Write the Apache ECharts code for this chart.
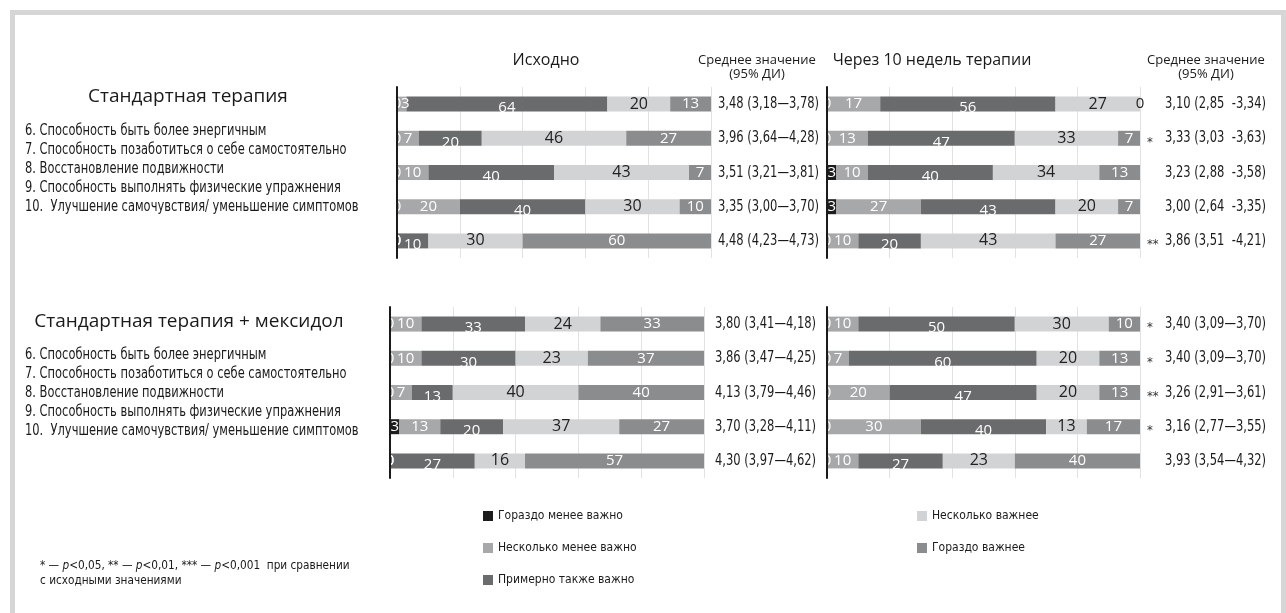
<!DOCTYPE html>
<html>
<head>
<meta charset="utf-8">
<script src="https://cdn.jsdelivr.net/npm/echarts@6/dist/echarts.min.js"></script>
<style>
  html, body { margin: 0; padding: 0; background: #fff; }
  #chart { width: 1286px; height: 613px; }
</style>
</head>
<body>
<div id="chart"></div>
<script>
// Answer scale (legend order) and survey items
const levels = ['Гораздо менее важно', 'Несколько менее важно', 'Примерно также важно', 'Несколько важнее', 'Гораздо важнее'];
const items = [
  '6. Способность быть более энергичным',
  '7. Способность позаботиться о себе самостоятельно',
  '8. Восстановление подвижности',
  '9. Способность выполнять физические упражнения',
  '10.  Улучшение самочувствия/ уменьшение симптомов'
];

// Share of answers (%) per row, in the order of `levels`
const stdBaseline = [[0, 3, 64, 20, 13], [0, 7, 20, 46, 27], [0, 10, 40, 43, 7], [0, 20, 40, 30, 10], [0, 0, 10, 30, 60]];
const stdWeek10   = [[0, 17, 56, 27, 0], [0, 13, 47, 33, 7], [3, 10, 40, 34, 13], [3, 27, 43, 20, 7], [0, 10, 20, 43, 27]];
const mexBaseline = [[0, 10, 33, 24, 33], [0, 10, 30, 23, 37], [0, 7, 13, 40, 40], [3, 13, 20, 37, 27], [0, 0, 27, 16, 57]];
const mexWeek10   = [[0, 10, 50, 30, 10], [0, 7, 60, 20, 13], [0, 20, 47, 20, 13], [0, 30, 40, 13, 17], [0, 10, 27, 23, 40]];

// Mean (95% CI) per row and significance marks vs baseline
const stdBaselineCI = ['3,48 (3,18—3,78)', '3,96 (3,64—4,28)', '3,51 (3,21—3,81)', '3,35 (3,00—3,70)', '4,48 (4,23—4,73)'];
const stdWeek10CI   = ['3,10 (2,85  -3,34)', '3,33 (3,03  -3,63)', '3,23 (2,88  -3,58)', '3,00 (2,64  -3,35)', '3,86 (3,51  -4,21)'];
const stdWeek10Sig  = ['', '*', '', '', '**'];
const mexBaselineCI = ['3,80 (3,41—4,18)', '3,86 (3,47—4,25)', '4,13 (3,79—4,46)', '3,70 (3,28—4,11)', '4,30 (3,97—4,62)'];
const mexWeek10CI   = ['3,40 (3,09—3,70)', '3,40 (3,09—3,70)', '3,26 (2,91—3,61)', '3,16 (2,77—3,55)', '3,93 (3,54—4,32)'];
const mexWeek10Sig  = ['*', '*', '**', '*', ''];

const groupTitles = ['Стандартная терапия', 'Стандартная терапия + мексидол'];
const periodTitles = ['Исходно', 'Через 10 недель терапии'];
const meanTitle = 'Среднее значение\n(95% ДИ)';
const footnote = ['* — {i|p}<0,05, ** — {i|p}<0,01, *** — {i|p}<0,001  при сравнении', 'с исходными значениями'];

const NARROW = "'DejaVu Sans Condensed', 'DejaVu Sans', sans-serif";
const SANS = "'Open Sans', 'Noto Sans', sans-serif";
const colors = ['#1d1d1d', '#a7a8aa', '#6a6b6d', '#d2d3d5', '#8b8c8e'];
const labelColors = ['#fff', '#fff', '#fff', '#222', '#fff'];

const panels = [
  { rows: stdBaseline, ci: stdBaselineCI, sig: null, grid: { left: 397, top: 87, width: 314, height: 171 }, ciGap: 7 },
  { rows: stdWeek10, ci: stdWeek10CI, sig: stdWeek10Sig, grid: { left: 827, top: 87, width: 313, height: 171 }, ciGap: 25 },
  { rows: mexBaseline, ci: mexBaselineCI, sig: null, grid: { left: 390, top: 307, width: 314, height: 171 }, ciGap: 11 },
  { rows: mexWeek10, ci: mexWeek10CI, sig: mexWeek10Sig, grid: { left: 827, top: 307, width: 313, height: 171 }, ciGap: 25 }
];

const grid = [], xAxis = [], yAxis = [], series = [];
panels.forEach((p, pi) => {
  grid.push(p.grid);
  xAxis.push({
    gridIndex: pi, type: 'value', min: 0, max: 100, interval: 20,
    axisLabel: { show: false }, axisLine: { show: false }, axisTick: { show: false },
    splitLine: { lineStyle: { color: '#e2e2e2', width: 1 } }
  });
  yAxis.push({
    gridIndex: pi, type: 'category', inverse: true, data: items, z: 10,
    axisLine: { lineStyle: { color: '#1a1a1a', width: 2 } },
    axisTick: { show: false }, axisLabel: { show: false }
  });
  levels.forEach((lv, k) => {
    series.push({
      type: 'bar', name: lv, stack: 'panel' + pi,
      xAxisIndex: pi, yAxisIndex: pi,
      barWidth: 15,
      itemStyle: { color: colors[k] },
      label: {
        show: true, position: 'inside',
        color: labelColors[k],
        fontFamily: SANS,
        fontSize: k === 3 ? 16 : 15,
        offset: k === 2 ? [0, 4] : [0, 0]
      },
      data: p.rows.map(r => {
        const v = r[k];
        if (v === 0 && k >= 2) {
          return { value: v, label: { color: '#222', offset: [0, 0] } };
        }
        if (k === 1 && v > 0 && v < 5) {
          return { value: v, label: { position: 'insideLeft', distance: 4 } };
        }
        return v;
      })
    });
  });
  // mean (95% CI) text to the right of each row, with significance marks
  series.push({
    type: 'custom', name: 'ci' + pi, xAxisIndex: pi, yAxisIndex: pi,
    clip: false, silent: true, z: 5,
    data: p.ci.map((t, i) => [100, i]),
    renderItem: (params, api) => {
      const pt = api.coord([api.value(0), api.value(1)]);
      const i = params.dataIndex;
      const children = [{
        type: 'text', x: pt[0] + p.ciGap, y: pt[1], scaleX: 0.8,
        style: { text: p.ci[i], font: `16px ${NARROW}`, fill: '#1a1a1a', align: 'left', verticalAlign: 'middle' }
      }];
      if (p.sig && p.sig[i]) {
        children.push({
          type: 'text', x: pt[0] + 7, y: pt[1] + 4,
          style: { text: p.sig[i], font: `13px ${NARROW}`, fill: '#333', align: 'left', verticalAlign: 'middle' }
        });
      }
      return { type: 'group', children };
    }
  });
});

const graphic = [];
// frame
graphic.push({ type: 'rect', shape: { x: 12.5, y: 12.5, width: 1271, height: 620 }, style: { fill: 'none', stroke: '#d6d6d6', lineWidth: 5 }, silent: true });
// column titles
graphic.push({ type: 'text', x: 546, y: 60, style: { text: periodTitles[0], font: `16px ${SANS}`, fill: '#1a1a1a', align: 'center', verticalAlign: 'middle' } });
graphic.push({ type: 'text', x: 932, y: 60, style: { text: periodTitles[1], font: `16px ${SANS}`, fill: '#1a1a1a', align: 'center', verticalAlign: 'middle' } });
[757, 1206].forEach(cx => {
  graphic.push({ type: 'text', x: cx, y: 53, style: { text: meanTitle, font: `13px ${SANS}`, fill: '#1a1a1a', align: 'center', verticalAlign: 'top', lineHeight: 14 } });
});
// group titles and item lists
[[188, 97, 131], [189, 322, 355]].forEach(([cx, ty, ly], gi) => {
  graphic.push({ type: 'text', x: cx, y: ty, style: { text: groupTitles[gi], font: `19px ${SANS}`, fill: '#1a1a1a', align: 'center', verticalAlign: 'middle' } });
  items.forEach((t, i) => {
    graphic.push({ type: 'text', x: 25, y: ly + i * 19, scaleX: 0.85, style: { text: t, font: `15px ${NARROW}`, fill: '#1a1a1a', align: 'left', verticalAlign: 'middle' } });
  });
});
// footnote
footnote.forEach((t, i) => {
  graphic.push({
    type: 'text', x: 40, y: 566 + i * 15, scaleX: 0.9,
    style: {
      text: t, fill: '#1a1a1a', align: 'left', verticalAlign: 'middle',
      font: `13px ${NARROW}`,
      rich: { i: { fontStyle: 'italic', fontFamily: NARROW, fontSize: 13, fill: '#1a1a1a' } }
    }
  });
});

const legendBase = {
  orient: 'vertical', icon: 'rect', itemWidth: 10, itemHeight: 10, itemGap: 18,
  padding: 0, selectedMode: false,
  textStyle: { fontFamily: NARROW, fontSize: 12, color: '#1a1a1a', lineHeight: 14 }
};

const chart = echarts.init(document.getElementById('chart'), null, { renderer: 'canvas' });
chart.setOption({
  animation: false,
  backgroundColor: '#fff',
  grid, xAxis, yAxis, series, graphic,
  legend: [
    Object.assign({}, legendBase, { data: levels.slice(0, 3), left: 483, top: 509 }),
    Object.assign({}, legendBase, { data: levels.slice(3), left: 917, top: 509 })
  ]
});
</script>
</body>
</html>
